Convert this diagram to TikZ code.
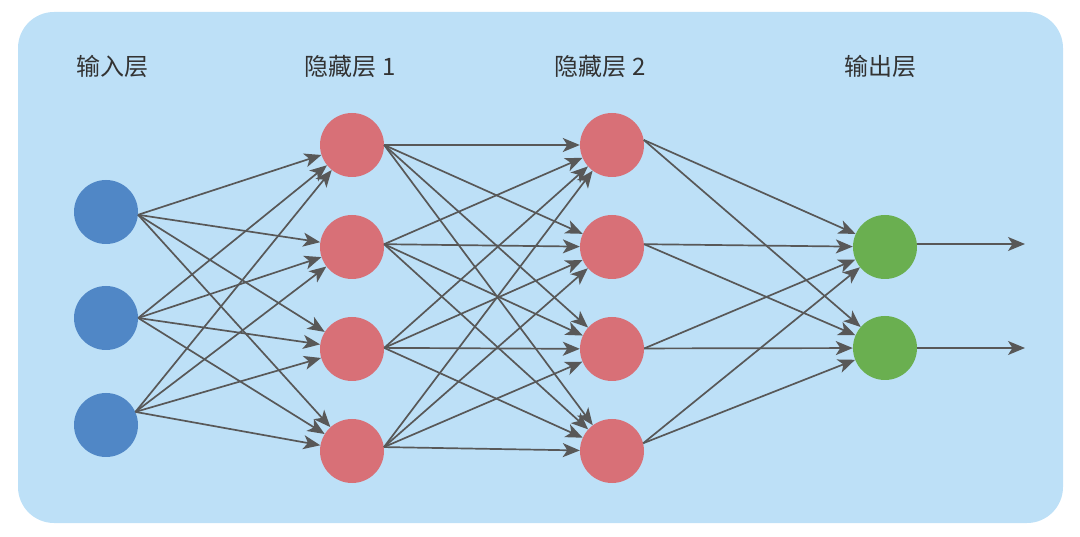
\documentclass[tikz,border=0pt]{standalone}
\usepackage{fontspec}
\setmainfont{Noto Sans CJK SC}
\usetikzlibrary{arrows.meta}
\definecolor{bgblue}{RGB}{189,224,247}
\definecolor{inblue}{RGB}{80,135,198}
\definecolor{hidred}{RGB}{216,112,119}
\definecolor{outgreen}{RGB}{106,175,80}
\definecolor{edgegray}{RGB}{88,88,88}
\definecolor{textgray}{RGB}{51,51,51}
\tikzset{
  neuron/.style={circle,minimum size=64pt,inner sep=0pt,draw=none},
  innode/.style={neuron,fill=inblue},
  hidnode/.style={neuron,fill=hidred},
  outnode/.style={neuron,fill=outgreen},
  layertitle/.style={text=textgray,font=\fontsize{24}{28}\selectfont,inner sep=0pt},
  conn/.style={draw=edgegray,line width=1.7pt,-{Stealth[length=17pt,width=14pt,inset=4.5pt]}}
}
\begin{document}
\begin{tikzpicture}[x=1pt,y=-1pt]
\useasboundingbox (0,0) rectangle (1080,537);
\fill[bgblue,rounded corners=36pt] (18,12) rectangle (1063,523);
% titles
\node[layertitle] (t1) at (112,66) {输入层};
\node[layertitle] (t2) at (350,66) {隐藏层 1};
\node[layertitle] (t3) at (600,66) {隐藏层 2};
\node[layertitle] (t4) at (880,66) {输出层};
% nodes
\node[innode] (i1) at (106,212) {};
\node[innode] (i2) at (106,318) {};
\node[innode] (i3) at (106,425) {};
\node[hidnode] (h1) at (352,145) {};
\node[hidnode] (h2) at (352,247) {};
\node[hidnode] (h3) at (352,349) {};
\node[hidnode] (h4) at (352,451) {};
\node[hidnode] (g1) at (612,145) {};
\node[hidnode] (g2) at (612,247) {};
\node[hidnode] (g3) at (612,349) {};
\node[hidnode] (g4) at (612,451) {};
\node[outnode] (o1) at (885,247) {};
\node[outnode] (o2) at (885,348) {};
% source points
\coordinate (i1s) at (i1.-5);
\coordinate (i2s) at (i2.0);
\coordinate (i3s) at (i3.24);
\coordinate (h1s) at (h1.0);
\coordinate (h2s) at (h2.5);
\coordinate (h3s) at (h3.2);
\coordinate (h4s) at (h4.7);
\coordinate (g1s) at (g1.9);
\coordinate (g2s) at (g2.5);
\coordinate (g3s) at (g3.1);
\coordinate (g4s) at (g4.14);
\coordinate (e1) at (1025,244);
\coordinate (e2) at (1025,348);
% connectors
\foreach \s in {i1s,i2s,i3s}
  \foreach \t in {h1,h2,h3,h4}
    \draw[conn] (\s) -- (\t);
\foreach \s in {h1s,h2s,h3s,h4s}
  \foreach \t in {g1,g2,g3,g4}
    \draw[conn] (\s) -- (\t);
\foreach \s in {g1s,g2s,g3s,g4s}
  \foreach \t in {o1,o2}
    \draw[conn] (\s) -- (\t);
\draw[conn] (o1.east |- e1) -- (e1);
\draw[conn] (o2.east) -- (e2);
\end{tikzpicture}
\end{document}
